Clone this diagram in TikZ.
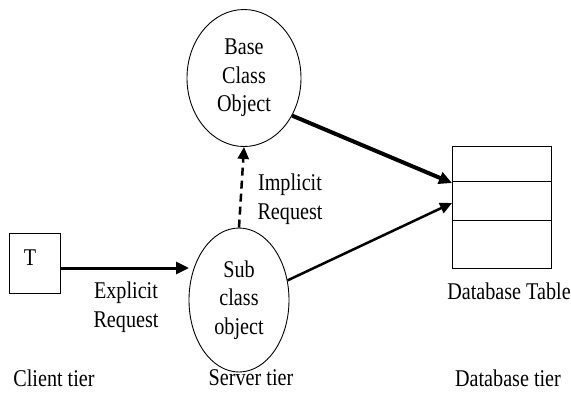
\documentclass[tikz,border=0pt]{standalone}
\usepackage{fontspec}
\setmainfont{Liberation Serif}[FakeStretch=0.84]
\usetikzlibrary{shapes.geometric,arrows.meta}
\tikzset{
  lbl/.style={font=\fontsize{24}{28.5}\selectfont, inner sep=0pt, align=center},
  obj/.style={draw, ellipse, line width=0.9pt, inner sep=0pt, lbl},
  box/.style={draw, line width=1pt, inner sep=0pt},
  thick arrow/.style={line width=#1, -{Triangle[length=13pt,width=12pt]}},
}
\begin{document}
\begin{tikzpicture}[x=1pt,y=-1pt]
\useasboundingbox (0,0) rectangle (571,392);
% nodes
\node[obj, minimum width=114pt, minimum height=137pt] (base) at (244,78) {Base\\Class\\Object};
\node[obj, minimum width=100pt, minimum height=144pt] (sub) at (239,300) {Sub\\class\\object};
\node[box, minimum width=51pt, minimum height=60pt] (T) at (34.5,263) {};
\node[lbl] (Tl) at (30,258) {T};
\node[box, minimum width=99pt, minimum height=122pt] (table) at (501.5,207) {};
\coordinate (r1l) at (452,181); \coordinate (r1r) at (551,181);
\coordinate (r2l) at (452,220); \coordinate (r2r) at (551,220);
\draw[line width=1pt] (r1l) -- (r1r) (r2l) -- (r2r);
\coordinate (in1) at (452,183);
\coordinate (in2) at (452,203);
\coordinate (Tout) at (60,268);
\coordinate (subin) at (189,268);
% labels
\node[lbl] (impl) at (290,199) {Implicit\\Request};
\node[lbl] (expl) at (126,307) {Explicit\\Request};
\node[lbl] (dbt) at (509,291) {Database Table};
\node[lbl] (ct) at (54,378) {Client tier};
\node[lbl] (st) at (251,378) {Server tier};
\node[lbl] (dt) at (508,378) {Database tier};
% connectors
\draw[thick arrow=3pt] (Tout) -- (subin);
\draw[thick arrow=4pt] (base.-38) -- (in1);
\draw[line width=2.5pt, -{Triangle[length=12pt,width=11pt]}] (sub.22) -- (in2);
\draw[line width=2.5pt, dash pattern=on 8pt off 5pt, -{Triangle[length=12pt,width=11pt]}] (sub.north) -- (base.south);
\end{tikzpicture}
\end{document}
